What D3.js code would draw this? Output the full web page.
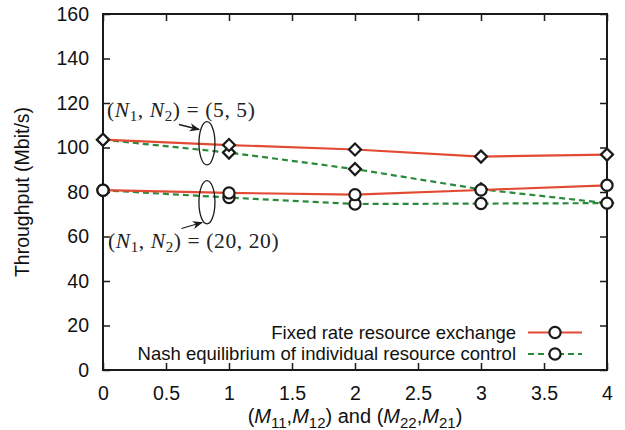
<!DOCTYPE html>
<html><head><meta charset="utf-8">
<script src="https://cdn.jsdelivr.net/npm/d3@7"></script>
<style>
html,body{margin:0;padding:0;background:#fff;}
svg{display:block;}
text{font-family:"Liberation Sans",Arial,Helvetica,sans-serif;fill:#111;}
.tex{font-family:"Liberation Serif","Times New Roman",serif;fill:#222;}
</style></head>
<body>
<svg id="chart" width="625" height="430"></svg>
<script>
const xValues = [0, 1, 2, 3, 4];
const fixed5  = [103.5, 101.1, 99.1, 95.9, 96.8];
const nash5   = [103.5, 97.7, 90.3, 81.2, 75.0];
const fixed20 = [80.8, 79.6, 78.8, 80.9, 83.0];
const nash20  = [80.8, 77.5, 74.6, 74.8, 75.0];
const xTicks = [0, 0.5, 1, 1.5, 2, 2.5, 3, 3.5, 4];
const yTicks = [0, 20, 40, 60, 80, 100, 120, 140, 160];
const legendLabels = ["Fixed rate resource exchange", "Nash equilibrium of individual resource control"];

const RED = "#e34a33", GREEN = "#2a8a3c", INK = "#1a1a1a";
const svg = d3.select("#chart");
const x = d3.scaleLinear().domain([0, 4]).range([103, 607]);
const y = d3.scaleLinear().domain([0, 160]).range([370, 14]);
const fs = 19.5;

// frame
svg.append("rect").attr("x", x(0)).attr("y", y(160)).attr("width", x(4)-x(0)).attr("height", y(0)-y(160))
  .attr("fill", "none").attr("stroke", INK).attr("stroke-width", 2);

// axes with inward ticks (mirrored)
const tl = 7;
const ax = [
  svg.append("g").attr("transform", `translate(0,${y(0)})`).call(d3.axisBottom(x).tickValues(xTicks).tickSize(-tl).tickPadding(16).tickFormat(d3.format("~g"))),
  svg.append("g").attr("transform", `translate(0,${y(160)})`).call(d3.axisTop(x).tickValues(xTicks).tickSize(-tl).tickFormat("")),
  svg.append("g").attr("transform", `translate(${x(0)},0)`).call(d3.axisLeft(y).tickValues(yTicks).tickSize(-tl).tickPadding(14)),
  svg.append("g").attr("transform", `translate(${x(4)},0)`).call(d3.axisRight(y).tickValues(yTicks).tickSize(-tl).tickFormat(""))
];
ax.forEach(g => {
  g.select(".domain").remove();
  g.selectAll(".tick line").attr("stroke", INK).attr("stroke-width", 1.5);
  g.selectAll(".tick text").attr("font-size", fs).attr("font-family", '"Liberation Sans",Arial,sans-serif').attr("fill", INK);
});

// axis labels
svg.append("text").attr("transform", `translate(29,${(y(0)+y(160))/2}) rotate(-90)`)
  .attr("text-anchor", "middle").attr("font-size", fs).text("Throughput (Mbit/s)");
const xl = svg.append("text").attr("x", x(2)).attr("y", 423).attr("text-anchor", "middle").attr("font-size", 20);
const parts = [["(",""],["M","i"],["11","s"],[",",""],["M","i"],["12","s"],[") and (",""],["M","i"],["22","s"],[",",""],["M","i"],["21","s"],[")",""]];
parts.forEach(([t, k], i) => {
  const ts = xl.append("tspan").text(t);
  const prev = i > 0 ? parts[i-1][1] : "";
  if (k === "i") ts.attr("font-style", "italic");
  if (k === "s") ts.attr("font-size", 15).attr("dy", 5);
  else if (prev === "s") ts.attr("dy", -5);
});

// lines
const line = d3.line().x((d, i) => x(xValues[i])).y(d => y(d));
const series = [
  {data: nash5, color: GREEN, dash: "6,4", marker: "diamond"},
  {data: fixed5, color: RED, dash: null, marker: "diamond"},
  {data: nash20, color: GREEN, dash: "6,4", marker: "circle"},
  {data: fixed20, color: RED, dash: null, marker: "circle"}
];
series.forEach(s => {
  svg.append("path").datum(s.data).attr("d", line).attr("fill", "none")
    .attr("stroke", s.color).attr("stroke-width", 2.2).attr("stroke-dasharray", s.dash);
});
const diamond = d3.symbol().type(d3.symbolSquare).size(72);
series.forEach(s => {
  const g = svg.append("g");
  s.data.forEach((v, i) => {
    if (s.marker === "circle") {
      g.append("circle").attr("cx", x(xValues[i])).attr("cy", y(v)).attr("r", 5.6)
        .attr("fill", "#fff").attr("stroke", INK).attr("stroke-width", 2.2);
    } else {
      g.append("path").attr("d", diamond).attr("transform", `translate(${x(xValues[i])},${y(v)}) rotate(45)`)
        .attr("fill", "#fff").attr("stroke", INK).attr("stroke-width", 2.2);
    }
  });
});

// annotations: ellipses + arrows + TeX-like labels
const ellX = 0.825;
[{cy: 101.9}, {cy: 75.4}].forEach(e => {
  svg.append("ellipse").attr("cx", x(ellX)).attr("cy", y(e.cy)).attr("rx", 8).attr("ry", 21.7)
    .attr("fill", "none").attr("stroke", INK).attr("stroke-width", 1.3);
});
svg.append("defs").append("marker").attr("id", "ah").attr("viewBox", "0 0 10 10").attr("refX", 9).attr("refY", 5)
  .attr("markerWidth", 8).attr("markerHeight", 8).attr("orient", "auto")
  .append("path").attr("d", "M0,1 L10,5 L0,9 L3,5 Z").attr("fill", INK);
svg.append("line").attr("x1", 179).attr("y1", 124.5).attr("x2", 199).attr("y2", 129.5)
  .attr("stroke", INK).attr("stroke-width", 1.3).attr("marker-end", "url(#ah)");
svg.append("line").attr("x1", 181.5).attr("y1", 228.5).attr("x2", 202).attr("y2", 222.5)
  .attr("stroke", INK).attr("stroke-width", 1.3).attr("marker-end", "url(#ah)");

function texLabel(xp, yp, a, b) {
  const t = svg.append("text").attr("class", "tex").attr("x", xp).attr("y", yp).attr("font-size", 21.5)
    .attr("letter-spacing", 0.6);
  t.append("tspan").text("(");
  t.append("tspan").attr("font-style", "italic").text("N");
  t.append("tspan").attr("font-size", 15).attr("dy", 4).text("1");
  t.append("tspan").attr("dy", -4).text(", ");
  t.append("tspan").attr("font-style", "italic").text("N");
  t.append("tspan").attr("font-size", 15).attr("dy", 4).text("2");
  t.append("tspan").attr("dy", -4).text(`) = (${a}, ${b})`);
}
texLabel(107, 117, 5, 5);
texLabel(108, 248, 20, 20);

// legend
const lg = svg.append("g");
[[RED, null], [GREEN, "6,4"]].forEach(([c, dash], i) => {
  const ly = 332.5 + i * 21.5;
  lg.append("text").attr("x", 516).attr("y", ly).attr("dy", "0.35em").attr("text-anchor", "end")
    .attr("font-size", 18.5).text(legendLabels[i]);
  lg.append("line").attr("x1", 528).attr("x2", 582).attr("y1", ly).attr("y2", ly)
    .attr("stroke", c).attr("stroke-width", 2.2).attr("stroke-dasharray", dash);
  lg.append("circle").attr("cx", 555).attr("cy", ly).attr("r", 5.6).attr("fill", "#fff")
    .attr("stroke", INK).attr("stroke-width", 2.2);
});
</script>
</body></html>
